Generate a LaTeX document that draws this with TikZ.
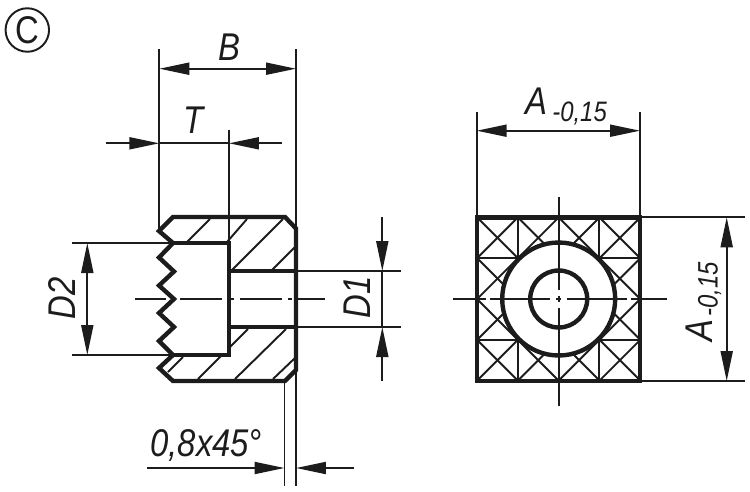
\documentclass[tikz,border=0pt]{standalone}
\usepackage{fontspec}
\setmainfont{Liberation Sans}
\newfontfamily\dimfont[FakeStretch=0.85]{Liberation Sans}
\usetikzlibrary{positioning,arrows.meta}

\definecolor{ink}{HTML}{1C1C1C}

\tikzset{
  outline/.style={draw=ink, line width=2.5pt, line join=miter},
  thinline/.style={draw=ink, line width=1.1pt},
  hatchline/.style={draw=ink, line width=1.1pt},
  dimline/.style={draw=ink, line width=1.1pt, >={Triangle[length=0.6cm,width=0.24cm]}},
  dimlabel/.style={text=ink, inner sep=0pt, font=\dimfont\itshape\fontsize{22}{26}\selectfont},
  sublabel/.style={text=ink, inner sep=0pt, font=\dimfont\itshape\fontsize{16}{19}\selectfont},
}

\begin{document}
\begin{tikzpicture}[x=0.02cm,y=-0.02cm]
  \useasboundingbox (0,0) rectangle (750,491);

  % Marker
  \node[draw=ink, circle, line width=1.1pt, minimum size=0.87cm, inner sep=0pt] (marker) at (27.3,30) {};
  \node[text=ink, inner sep=0pt, font=\dimfont\fontsize{22}{26}\selectfont] (markertext) at (marker.center) {C};

  % Hatching, section view
  \foreach \xa/\ya/\xb/\yb in {187/242/210/219, 227/242/247/219, 232/270/283/219, 272/270/295/247,
      230/347/248/329, 198/379/221/356, 235/379/286/329, 273/379/295/358, 168/372/183/357} {
    \draw[hatchline] (\xa,\ya) -- (\xb,\yb);
  }

  % Section view
  \draw[outline] (173,243) -- (159,231) -- (173,217) -- (285,217) -- (296,228.5) -- (296,370)
    -- (285,381) -- (173,381) -- (159,368) -- (173,355);
  \draw[outline] (173,243) -- (159,257.5) -- (174,271.5) -- (159,285.5) -- (174,299)
    -- (159,313) -- (174,327) -- (159,341) -- (173,355);
  \draw[outline] (173,243) -- (229,243) -- (229,355) -- (173,355);
  \draw[outline] (229,271) -- (296,271);
  \draw[outline] (229,327) -- (296,327);

  % Centre line, section view
  \foreach \xa/\xb in {135/166, 180/222, 231/234, 240/282, 288/292, 298/325} {
    \draw[thinline] (\xa,299) -- (\xb,299);
  }

  % Knurl, front view
  \begin{scope}
    \clip (476.7,217.3) rectangle (640,381);
    \foreach \k in {-4,...,4} {
      \draw[hatchline] ({558.7+\k*40.8-90},209) -- ({558.7+\k*40.8+90},389);
      \draw[hatchline] ({558.7+\k*40.8-90},389) -- ({558.7+\k*40.8+90},209);
    }
    \draw[hatchline] (517.7,217.3) -- (517.7,381);
    \draw[hatchline] (599.4,217.3) -- (599.4,381);
    \draw[hatchline] (476.7,258.2) -- (640,258.2);
    \draw[hatchline] (476.7,340) -- (640,340);
  \end{scope}

  % Front view
  \node[outline, fill=white, circle, minimum size=2.26cm, inner sep=0pt] (collar) at (558.7,299) {};
  \node[outline, circle, minimum size=1.14cm, inner sep=0pt] (bore) at (collar.center) {};
  \draw[outline] (476.7,217.3) rectangle (640,381);

  % Centre lines, front view
  \foreach \xa/\xb in {453/486, 490/550, 556/561, 567/627, 631/667} {
    \draw[thinline] (\xa,299) -- (\xb,299);
  }
  \foreach \ya/\yb in {197/290, 296/302, 308/406} {
    \draw[thinline] (558.7,\ya) -- (558.7,\yb);
  }

  % Dimension B and T
  \draw[thinline] (159.3,49) -- (159.3,231);
  \draw[thinline] (296,49) -- (296,486);
  \draw[thinline] (229,130) -- (229,243);
  \draw[dimline,<->] (159.3,68.7) -- (296,68.7);
  \node[dimlabel] (labelb) at (229,47) {B};
  \draw[dimline,->] (106,143.3) coordinate (tstart) -- (159.3,143.3) coordinate (tleft);
  \draw[dimline,->] (281.7,143.3) coordinate (tend) -- (229,143.3) coordinate (tright);
  \draw[dimline] (tleft) -- (tright);
  \node[dimlabel] (labelt) at (193.5,120.5) {T};

  % Dimension D2
  \draw[thinline] (71.7,243) -- (173,243);
  \draw[thinline] (71.7,355) -- (173,355);
  \draw[dimline,<->] (87.3,243) -- (87.3,355);
  \node[dimlabel, rotate=90] (labeld2) at (62,298) {D2};

  % Dimension D1
  \draw[thinline] (296,271) -- (400.7,271);
  \draw[thinline] (296,327) -- (400.7,327);
  \draw[dimline,->] (382.3,217) -- (382.3,271);
  \draw[dimline,->] (382.3,381) -- (382.3,327);
  \draw[dimline] (382.3,271) -- (382.3,327);
  \node[dimlabel, rotate=90] (labeld1) at (357,297.5) {D1};

  % Chamfer
  \draw[thinline] (284.5,381) -- (284.5,486);
  \draw[dimline,->] (147,468) -- (284.5,468);
  \draw[dimline,->] (354,468) -- (296,468);
  \node[dimlabel, anchor=base west] (labelchamfer) at (150,456) {0,8x45°};

  % Dimension A, top
  \draw[thinline] (476.7,112) -- (476.7,217.3);
  \draw[thinline] (640,112) -- (640,217.3);
  \draw[dimline,<->] (476.7,130.7) -- (640,130.7);
  \node[dimlabel, anchor=base west] (labela) at (525,114) {A};
  \node[sublabel, anchor=base west] (labelasub) at (552,121) {-0,15};

  % Dimension A, side
  \draw[thinline] (640,217.3) -- (745,217.3);
  \draw[thinline] (640,381) -- (745,381);
  \draw[dimline,<->] (726.7,217.3) -- (726.7,381);
  \node[dimlabel, rotate=90, anchor=base west] (labelaside) at (712,342) {A};
  \node[sublabel, rotate=90, anchor=base west] (labelasidesub) at (717.5,317) {-0,15};
\end{tikzpicture}
\end{document}
